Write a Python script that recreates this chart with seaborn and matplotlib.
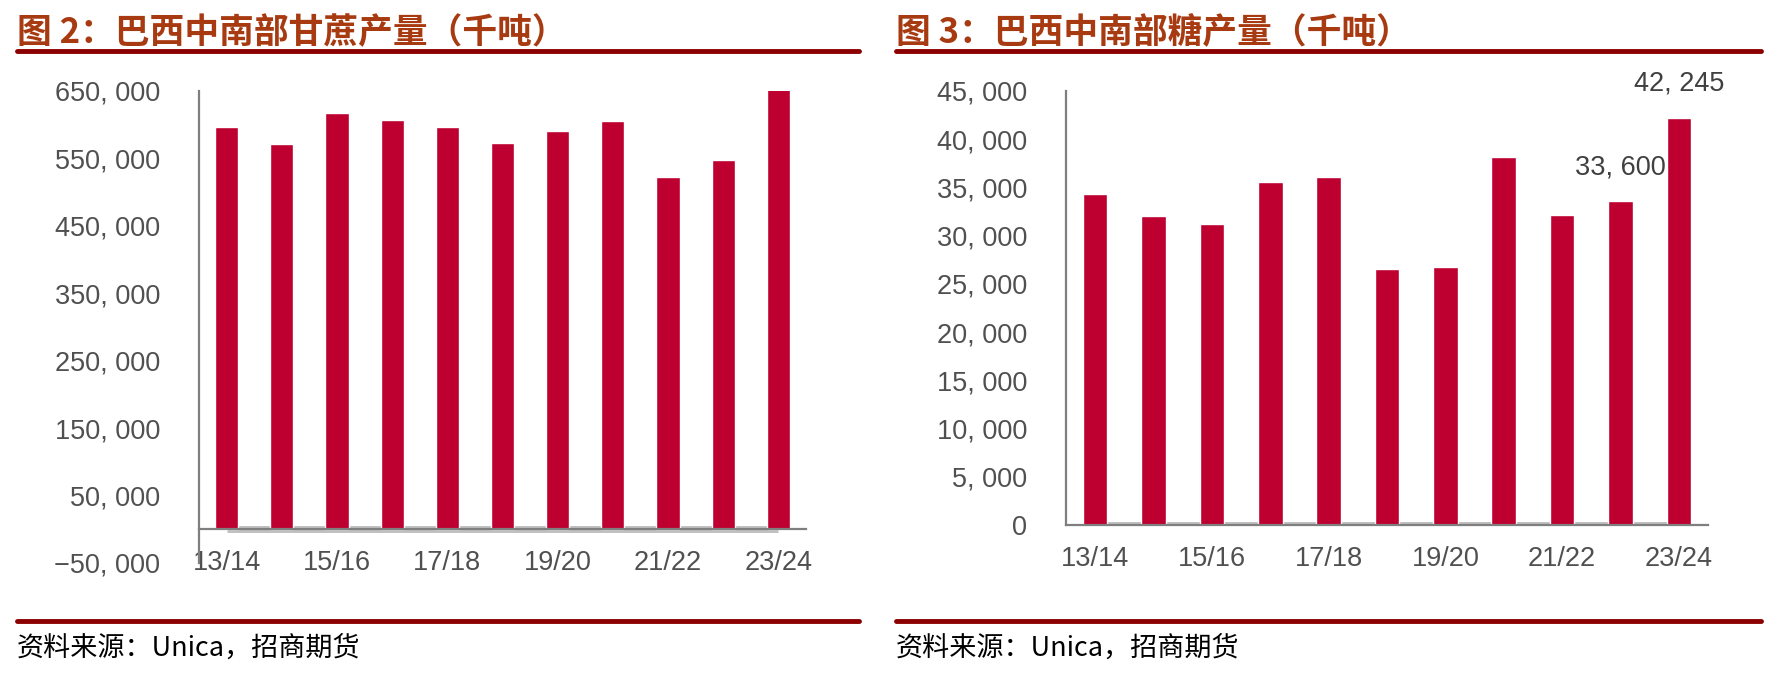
import numpy as np
import matplotlib
matplotlib.use("Agg")
import matplotlib.pyplot as plt
import seaborn as sns

# data
seasons = ["13/14", "14/15", "15/16", "16/17", "17/18", "18/19",
           "19/20", "20/21", "21/22", "22/23", "23/24"]
cane = [597000, 571000, 617000, 607000, 596000, 573000,
        591000, 605000, 523000, 548000, 654000]
sugar = [34300, 32000, 31200, 35600, 36100, 26500,
         26700, 38200, 32100, 33600, 42245]
sugar_labeled = ["22/23", "23/24"]
xtick_labels = seasons[::2]

title_left = "图 2：巴西中南部甘蔗产量（千吨）"
title_right = "图 3：巴西中南部糖产量（千吨）"
source = "资料来源：Unica，招商期货"

BAR = "#BE0030"
RULE = "#8B0000"
TITLE_C = "#A83A12"
AX_C = "#7F7F7F"
TXT_C = "#505050"

sns.set_style("white")
plt.rcParams["font.family"] = ["Liberation Sans", "Noto Sans CJK SC", "DejaVu Sans"]

W, H = 1772, 675
fig = plt.figure(figsize=(W / 100, H / 100), dpi=100)


def px_axes(l, t, r, b):
    return fig.add_axes([l / W, 1 - b / H, (r - l) / W, (b - t) / H])


def fmt(v):
    s = f"{abs(v):,}".replace(",", ", ")
    return ("\u2212" + s) if v < 0 else s


def style_axes(ax, yticks):
    for s in ["top", "right"]:
        ax.spines[s].set_visible(False)
    for s in ["left", "bottom"]:
        ax.spines[s].set_color(AX_C)
        ax.spines[s].set_linewidth(1.6)
    ax.set_xlim(-0.5, len(seasons) - 0.5)
    ax.set_xticks(range(0, len(seasons), 2), xtick_labels)
    ax.set_xticks(np.arange(-0.5, len(seasons), 1), minor=True)
    ax.tick_params(axis="x", which="major", length=0, pad=15,
                   labelsize=19.5, labelcolor=TXT_C)
    ax.tick_params(axis="x", which="minor", length=6, width=1.6,
                   color=AX_C, direction="out")
    ax.set_yticks(yticks, [fmt(v) for v in yticks])
    ax.tick_params(axis="y", length=6, width=1.6, color=AX_C, pad=22,
                   labelsize=19.5, labelcolor=TXT_C)
    ax.set_xlabel("")
    ax.set_ylabel("")
    ax.hlines(0, 0, len(seasons) - 1, color="#C0C0C0", lw=5, zorder=1.5)


# left: cane
ax1 = px_axes(199, 91, 806, 563)
sns.barplot(x=seasons, y=cane, color=BAR, saturation=1, width=0.42,
            errorbar=None, ax=ax1, zorder=2)
ax1.set_ylim(-50000, 650000)
ax1.spines["bottom"].set_position(("data", 0))
style_axes(ax1, list(range(-50000, 650001, 100000)))

# right: sugar
ax2 = px_axes(1066, 91, 1708, 525)
sns.barplot(x=seasons, y=sugar, color=BAR, saturation=1, width=0.42,
            errorbar=None, ax=ax2, zorder=2)
ax2.set_ylim(0, 45000)
style_axes(ax2, list(range(0, 45001, 5000)))
for lab in sugar_labeled:
    i = seasons.index(lab)
    ax2.annotate(fmt(sugar[i]), xy=(i, sugar[i]), xytext=(0, 15),
                 textcoords="offset points", ha="center", va="bottom",
                 fontsize=19.5, color="#404040")

# titles, rules, source
cjk = ["Noto Sans CJK SC", "DejaVu Sans"]
for x0, x1, title in [(17, 859, title_left), (896, 1761, title_right)]:
    fig.text(x0 / W, 1 - 33 / H, title, fontsize=25, fontweight="bold",
             color=TITLE_C, va="center", ha="left", family=cjk)
    fig.add_artist(plt.Line2D([x0 / W, x1 / W], [1 - 51 / H] * 2,
                              color=RULE, lw=3.5))
    fig.add_artist(plt.Line2D([x0 / W, x1 / W], [1 - 621 / H] * 2,
                              color=RULE, lw=3.5))
    fig.text(x0 / W, 1 - 648 / H, source, fontsize=19.5, color="black",
             va="center", ha="left", family=cjk)

fig.savefig("out.png", dpi=100)
